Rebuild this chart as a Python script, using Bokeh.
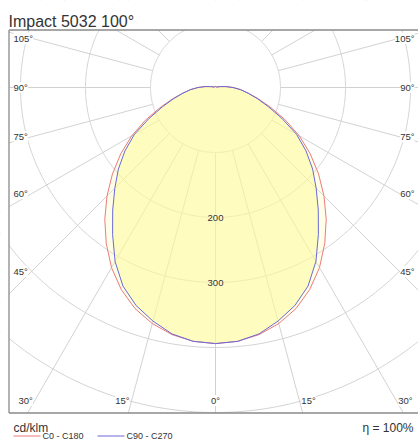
import numpy as np
from bokeh.plotting import figure
from bokeh.models import Range1d, ColumnDataSource, LabelSet
from bokeh.embed import file_html
from bokeh.resources import INLINE
from bokeh.core.properties import value

# ---------------- data ----------------
title_text = "Impact 5032 100°"
gamma = list(range(0, 185, 5))  # degrees from nadir
c0_c180 = [394, 392, 386, 376, 362, 343, 320, 293, 265, 236, 207, 178, 149, 119,
           91, 69, 52, 39, 27, 16, 8, 4, 2] + [1.5] * 14
c90_c270 = [394, 392, 385, 372, 357, 337, 309, 276, 246, 219, 195, 170, 144, 113,
            87, 67, 51, 39, 27, 16, 8, 4, 2] + [1.5] * 14
grid_radii = [100, 200, 300, 400, 500, 600]
radius_labels = [200, 300]
spoke_angles = list(range(0, 360, 15))
side_angle_labels = [105, 90, 75, 60, 45]
bottom_angle_labels = [30, 15, 0]
unit_text = "cd/klm"
eta_text = "η = 100%"
series_names = ["C0 - C180", "C90 - C270"]
series_colors = ["#ec7b7b", "#6a6ad8"]

# ---------------- geometry ----------------
FONT = "Liberation Sans"
PX = 0.65             # pixels per cd/klm
W, H = 418, 443
CX, CY = 215.0, 87.0  # polar centre in canvas pixels
FR_TOP, FR_BOT, FR_LEFT, FR_RIGHT = 29.5, 412.5, 8.5, 430.0

def dx(px):
    return (px - CX) / PX

def dy(py):
    return (CY - py) / PX

p = figure(width=W, height=H, output_backend="svg", toolbar_location=None,
           x_range=Range1d(dx(0), dx(W)), y_range=Range1d(dy(H), dy(0)),
           min_border=0, outline_line_color=None)
p.axis.visible = False
p.grid.visible = False
p.background_fill_color = "white"
p.border_fill_color = "white"

GRID = "#d2d2d2"
# circles
t = np.linspace(0, 2 * np.pi, 721)
p.multi_line([list(r * np.cos(t)) for r in grid_radii],
             [list(r * np.sin(t)) for r in grid_radii],
             line_color=GRID, line_width=1)
# spokes
sx, sy = [], []
for a in spoke_angles:
    g = np.radians(a)
    sx.append([100 * np.sin(g), 800 * np.sin(g)])
    sy.append([-100 * np.cos(g), -800 * np.cos(g)])
p.multi_line(sx, sy, line_color=GRID, line_width=1)

# curves
def polar_curve(vals):
    g = np.radians(np.array(gamma, dtype=float))
    v = np.array(vals, dtype=float)
    xr = v * np.sin(g)
    yr = -v * np.cos(g)
    xs = np.concatenate([xr, -xr[::-1][1:]])
    ys = np.concatenate([yr, yr[::-1][1:]])
    return list(xs), list(ys)

x1, y1 = polar_curve(c0_c180)
x2, y2 = polar_curve(c90_c270)
p.patch(x1, y1, fill_color="#fffa9c", fill_alpha=0.22, line_color=None)
p.patch(x2, y2, fill_color="#fffa9c", fill_alpha=0.55, line_color=None)
p.line(x1, y1, line_color=series_colors[0], line_width=1)
p.line(x2, y2, line_color=series_colors[1], line_width=1)

# white bands outside the frame (title area and footer)
p.quad(left=dx(-5), right=dx(W + 5), top=dy(-5), bottom=dy(FR_TOP),
       fill_color="white", line_color=None)
p.quad(left=dx(-5), right=dx(W + 5), top=dy(FR_BOT), bottom=dy(H + 5),
       fill_color="white", line_color=None)
p.quad(left=dx(-5), right=dx(FR_LEFT), top=dy(-5), bottom=dy(H + 5),
       fill_color="white", line_color=None)

# frame border
BORDER = "#8a8a8a"
p.line([dx(FR_LEFT), dx(FR_RIGHT)], [dy(FR_TOP)] * 2, line_color=BORDER, line_width=1.3)
p.line([dx(FR_LEFT), dx(FR_RIGHT)], [dy(FR_BOT)] * 2, line_color=BORDER, line_width=1.3)
p.line([dx(FR_LEFT)] * 2, [dy(FR_TOP), dy(FR_BOT)], line_color=BORDER, line_width=1.3)

LBL = "9.5px"
TXT = "#333333"

# side angle labels: vertical position where the spoke crosses a column near the edge
lx, ly, rx, ry, lt = [], [], [], [], []
for a in side_angle_labels:
    g = np.radians(a)
    col = dx(31)                      # left column (data x, negative)
    tpar = -col / np.sin(g)
    yy = -tpar * np.cos(g)
    lx.append(dx(13)); ly.append(yy)
    rx.append(dx(414)); ry.append(yy)
    lt.append(f"{a}°")
for xs_, ys_, al in [(lx, ly, "left"), (rx, ry, "right")]:
    src = ColumnDataSource(dict(x=xs_, y=ys_, t=lt))
    p.add_layout(LabelSet(x="x", y="y", text="t", source=src, text_align=al,
                          text_baseline="middle", text_font=value(FONT),
                          text_font_size=LBL, text_color=TXT,
                          background_fill_color="white"))

# bottom angle labels
ybot = dy(400)
bl_x, bl_t, br_x, br_t = [], [], [], []
for a in bottom_angle_labels:
    g = np.radians(a)
    xx = -ybot * np.tan(g)
    if a == 0:
        continue
    bl_x.append(-xx - 2 / PX); bl_t.append(f"{a}°")
    br_x.append(xx + 2 / PX); br_t.append(f"{a}°")
for xs_, ts_, al in [(bl_x, bl_t, "right"), (br_x, br_t, "left"), ([0.0], ["0°"], "center")]:
    src = ColumnDataSource(dict(x=xs_, y=[ybot] * len(xs_), t=ts_))
    p.add_layout(LabelSet(x="x", y="y", text="t", source=src, text_align=al,
                          text_baseline="middle", text_font=value(FONT),
                          text_font_size=LBL, text_color=TXT,
                          background_fill_color="white"))

# radius labels
src = ColumnDataSource(dict(x=[0.0] * len(radius_labels),
                            y=[-float(r) for r in radius_labels],
                            t=[str(r) for r in radius_labels]))
p.add_layout(LabelSet(x="x", y="y", text="t", source=src, text_align="center",
                      text_baseline="middle", text_font=value(FONT),
                      text_font_size=LBL, text_color=TXT,
                      background_fill_color="#fffbc8"))

# title
p.text(x=[dx(8)], y=[dy(21)], text=[title_text], text_font=value(FONT),
       text_font_size="16px", text_color=TXT, text_align="left",
       text_baseline="alphabetic")

# footer
p.text(x=[dx(13)], y=[dy(427)], text=[unit_text], text_font=value(FONT),
       text_font_size="12px", text_color=TXT, text_align="left",
       text_baseline="alphabetic")
p.text(x=[dx(413)], y=[dy(427)], text=[eta_text], text_font=value(FONT),
       text_font_size="12px", text_color=TXT, text_align="right",
       text_baseline="alphabetic")

# legend
leg_y = dy(435.5)
for i, (name, col) in enumerate(zip(series_names, series_colors)):
    x_start = 13 + i * 84
    p.line([dx(x_start), dx(x_start + 27)], [leg_y, leg_y], line_color=col, line_width=1)
    p.text(x=[dx(x_start + 29)], y=[leg_y], text=[name], text_font=value(FONT),
           text_font_size="9px", text_color=TXT, text_align="left",
           text_baseline="middle")

open("out.html", "w").write(file_html(p, INLINE))
